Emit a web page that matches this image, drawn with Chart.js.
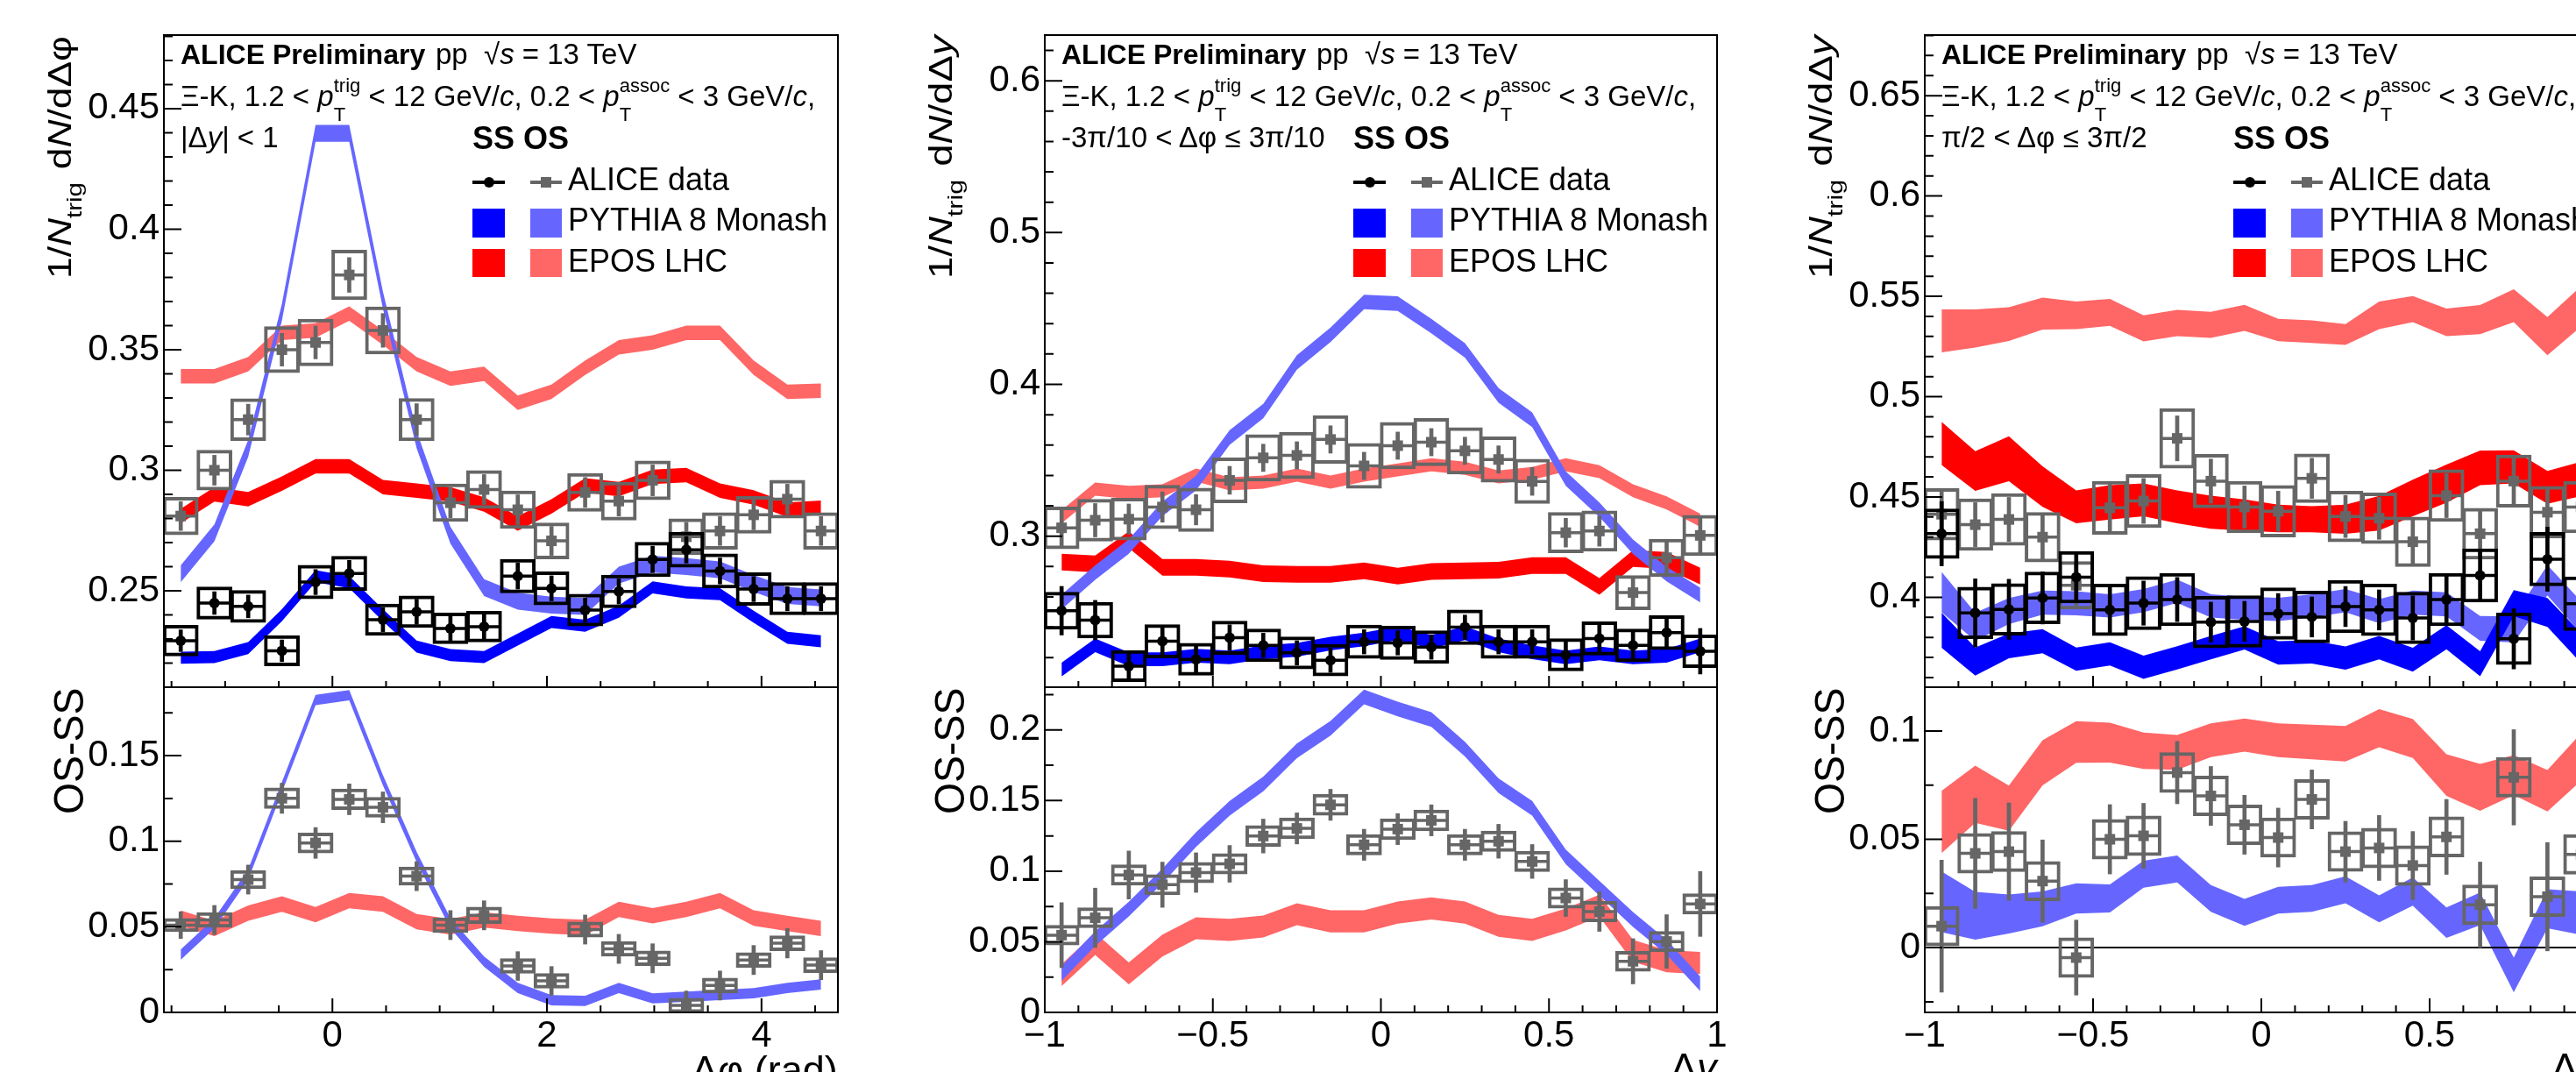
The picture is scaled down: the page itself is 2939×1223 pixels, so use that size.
<!DOCTYPE html>
<html>
<head>
<meta charset="utf-8">
<title>Xi-K correlations</title>
<script src="https://cdn.jsdelivr.net/npm/chart.js@4.4.1/dist/chart.umd.min.js"></script>
<style>
html, body { margin:0; padding:0; background:#fff; overflow:hidden; }
#root { position:relative; width:2939px; height:1223px; overflow:hidden; background:#fff;
  font-family:"Liberation Sans", Arial, Helvetica, sans-serif; color:#000; }
#root canvas { position:absolute; }
.t { position:absolute; white-space:nowrap; }
.sb, .sp, .ysb { position:relative; line-height:0; }
.sb { font-size:22px; top:17px; }
.sp { font-size:22px; top:-16px; margin-left:-13.4px; }
.ysb { font-size:24px; top:12px; margin-right:12px; }
.mk { position:absolute; }
</style>
</head>
<body>
<div id="root"></div>
<script>
// ---------------- categories (bin centres) ----------------
const dphiBins = [-1.414, -1.100, -0.785, -0.471, -0.157, 0.157, 0.471, 0.785, 1.100, 1.414,
                  1.728, 2.042, 2.356, 2.670, 2.985, 3.299, 3.613, 3.927, 4.241, 4.555];
const dyBins = [-0.95, -0.85, -0.75, -0.65, -0.55, -0.45, -0.35, -0.25, -0.15, -0.05,
                0.05, 0.15, 0.25, 0.35, 0.45, 0.55, 0.65, 0.75, 0.85, 0.95];

// ---------------- tick labels ----------------
const dphiTickLabels = [0, 2, 4];
const dyTickLabels = [-1, -0.5, 0, 0.5, 1];
const p1TopTicks = [0.25, 0.3, 0.35, 0.4, 0.45];
const p1BotTicks = [0, 0.05, 0.1, 0.15];
const p2TopTicks = [0.3, 0.4, 0.5, 0.6];
const p2BotTicks = [0, 0.05, 0.1, 0.15, 0.2];
const p3TopTicks = [0.4, 0.45, 0.5, 0.55, 0.6, 0.65];
const p3BotTicks = [0, 0.05, 0.1];

// ---------------- Panel 1: Δφ, |Δy|<1 ----------------
const p1_os      = [0.281, 0.300, 0.321, 0.350, 0.353, 0.381, 0.358, 0.321, 0.2865, 0.292, 0.2836, 0.2707, 0.2908, 0.2872, 0.2958, 0.2724, 0.2748, 0.2815, 0.288, 0.2748];
const p1_os_sys  = [0.0079, 0.0084, 0.0088, 0.0097, 0.0098, 0.0104, 0.0099, 0.0089, 0.0079, 0.0080, 0.0079, 0.0076, 0.0080, 0.0080, 0.0082, 0.0076, 0.0077, 0.0078, 0.0080, 0.0077];
const p1_os_stat = [0.0060, 0.0062, 0.0064, 0.0068, 0.0068, 0.0072, 0.0070, 0.0066, 0.0062, 0.0062, 0.0062, 0.0060, 0.0062, 0.0062, 0.0064, 0.0060, 0.0060, 0.0062, 0.0062, 0.0060];
const p1_ss      = [0.2293, 0.2449, 0.2435, 0.2251, 0.2536, 0.2572, 0.2380, 0.2413, 0.2344, 0.2351, 0.2561, 0.2510, 0.2420, 0.2497, 0.2630, 0.2670, 0.2582, 0.2507, 0.2467, 0.2467];
const p1_ss_sys  = [0.0065, 0.0068, 0.0068, 0.0064, 0.0071, 0.0072, 0.0066, 0.0067, 0.0065, 0.0065, 0.0071, 0.0070, 0.0067, 0.0069, 0.0073, 0.0074, 0.0072, 0.0069, 0.0068, 0.0068];
const p1_ss_stat = [0.0045, 0.0047, 0.0047, 0.0045, 0.0052, 0.0054, 0.0050, 0.0052, 0.0050, 0.0050, 0.0054, 0.0052, 0.0050, 0.0052, 0.0055, 0.0055, 0.0054, 0.0052, 0.0050, 0.0050];
const p1_diff      = [0.0510, 0.0540, 0.0776, 0.1251, 0.0990, 0.1245, 0.1198, 0.0796, 0.0510, 0.0567, 0.0271, 0.0184, 0.0484, 0.0371, 0.0316, 0.0041, 0.0157, 0.0306, 0.0404, 0.0276];
const p1_diff_sys  = [0.0040, 0.0045, 0.0055, 0.0062, 0.0060, 0.0062, 0.0060, 0.0055, 0.0045, 0.0050, 0.0045, 0.0045, 0.0046, 0.0045, 0.0045, 0.0044, 0.0045, 0.0045, 0.0046, 0.0045];
const p1_diff_stat = [0.0078, 0.0085, 0.0085, 0.0088, 0.0090, 0.0090, 0.0090, 0.0085, 0.0085, 0.0085, 0.0084, 0.0084, 0.0085, 0.0085, 0.0085, 0.0084, 0.0085, 0.0085, 0.0086, 0.0085];
const p1_epOS  = [0.339, 0.339, 0.344, 0.357, 0.358, 0.365, 0.355, 0.344, 0.338, 0.340, 0.328, 0.3325, 0.3425, 0.351, 0.353, 0.357, 0.357, 0.3425, 0.3325, 0.333];
const p1_epSS  = [0.281, 0.290, 0.288, 0.2944, 0.3016, 0.3016, 0.293, 0.2915, 0.290, 0.2858, 0.2779, 0.285, 0.2937, 0.2922, 0.2973, 0.298, 0.2915, 0.2887, 0.2836, 0.2844];
const p1_pyOS  = [0.257, 0.274, 0.309, 0.3655, 0.4397, 0.4397, 0.3706, 0.3127, 0.273, 0.2513, 0.2457, 0.244, 0.2435, 0.2565, 0.261, 0.260, 0.2587, 0.253, 0.248, 0.247];
const p1_pySS  = [0.2222, 0.2225, 0.2262, 0.2399, 0.2560, 0.2536, 0.2399, 0.2269, 0.2233, 0.2225, 0.2298, 0.2370, 0.2355, 0.2413, 0.2514, 0.2493, 0.2486, 0.2392, 0.2305, 0.2290];
const p1_pyDiff = [0.0337, 0.052, 0.0806, 0.1316, 0.1825, 0.1853, 0.1357, 0.0908, 0.052, 0.0296, 0.0143, 0.0071, 0.0067, 0.0143, 0.0082, 0.0092, 0.0102, 0.0112, 0.0143, 0.0163];
const p1_epDiff = [0.055, 0.049, 0.058, 0.0633, 0.0571, 0.0653, 0.0633, 0.053, 0.050, 0.054, 0.052, 0.0504, 0.0496, 0.0602, 0.0565, 0.0602, 0.0653, 0.0551, 0.052, 0.049];
const p1_bandHalf = { epOS: 0.003, epSS: 0.003, pyOS: 0.0035, pySS: 0.0025, pyDiff: 0.003, epDiff: 0.0045 };

// ---------------- Panel 2: Δy, near side ----------------
const p2_os      = [0.3055, 0.3105, 0.3112, 0.3192, 0.3174, 0.3368, 0.3516, 0.3532, 0.3637, 0.3463, 0.3596, 0.3619, 0.3562, 0.3505, 0.3361, 0.3023, 0.3034, 0.2628, 0.2858, 0.3005];
const p2_os_sys  = [0.0140, 0.0140, 0.0140, 0.0145, 0.0145, 0.0150, 0.0155, 0.0155, 0.0160, 0.0150, 0.0155, 0.0158, 0.0155, 0.0152, 0.0148, 0.0135, 0.0135, 0.0115, 0.0125, 0.0135];
const p2_os_stat = [0.0120, 0.0110, 0.0100, 0.0100, 0.0100, 0.0092, 0.0090, 0.0090, 0.0090, 0.0090, 0.0090, 0.0090, 0.0090, 0.0090, 0.0092, 0.0095, 0.0100, 0.0105, 0.0110, 0.0130];
const p2_ss      = [0.2509, 0.2447, 0.2144, 0.2308, 0.2189, 0.2331, 0.2281, 0.2231, 0.2183, 0.2304, 0.2297, 0.2269, 0.2400, 0.2304, 0.2304, 0.2219, 0.2326, 0.2281, 0.2365, 0.2242];
const p2_ss_sys  = [0.0124, 0.0120, 0.0105, 0.0112, 0.0108, 0.0112, 0.0110, 0.0108, 0.0106, 0.0112, 0.0112, 0.0110, 0.0116, 0.0112, 0.0112, 0.0108, 0.0112, 0.0110, 0.0114, 0.0110];
const p2_ss_stat = [0.0160, 0.0130, 0.0090, 0.0090, 0.0090, 0.0085, 0.0080, 0.0080, 0.0080, 0.0080, 0.0080, 0.0080, 0.0080, 0.0080, 0.0080, 0.0085, 0.0090, 0.0095, 0.0110, 0.0150];
const p2_diff      = [0.0547, 0.0670, 0.0973, 0.0904, 0.0990, 0.1052, 0.1249, 0.1303, 0.1470, 0.1187, 0.1298, 0.1360, 0.1187, 0.1212, 0.1069, 0.0810, 0.0714, 0.0362, 0.0502, 0.0768];
const p2_diff_sys  = [0.0072, 0.0073, 0.0075, 0.0074, 0.0075, 0.0075, 0.0076, 0.0076, 0.0077, 0.0075, 0.0076, 0.0076, 0.0075, 0.0075, 0.0075, 0.0074, 0.0074, 0.0073, 0.0073, 0.0074];
const p2_diff_stat = [0.0230, 0.0210, 0.0170, 0.0160, 0.0140, 0.0130, 0.0120, 0.0110, 0.0110, 0.0110, 0.0110, 0.0110, 0.0110, 0.0120, 0.0120, 0.0130, 0.0140, 0.0160, 0.0190, 0.0230];
const p2_pyOS  = [0.2566, 0.2760, 0.2932, 0.3180, 0.3350, 0.3650, 0.3824, 0.4144, 0.4326, 0.4543, 0.4532, 0.4384, 0.4224, 0.3927, 0.3767, 0.3379, 0.3174, 0.2930, 0.2750, 0.2612];
const p2_pySS  = [0.2121, 0.2281, 0.2189, 0.2189, 0.2212, 0.2201, 0.2235, 0.2251, 0.2292, 0.2320, 0.2361, 0.2304, 0.2361, 0.2281, 0.2235, 0.2201, 0.2228, 0.2201, 0.2212, 0.2281];
const p2_epOS  = [0.3128, 0.3310, 0.3288, 0.3299, 0.3402, 0.3345, 0.3356, 0.3402, 0.3356, 0.3402, 0.3436, 0.3470, 0.3447, 0.3390, 0.3413, 0.3470, 0.3425, 0.3299, 0.3219, 0.3105];
const p2_epSS  = [0.2829, 0.2817, 0.2977, 0.2795, 0.2795, 0.2783, 0.2753, 0.2749, 0.2749, 0.2772, 0.2737, 0.2767, 0.2772, 0.2776, 0.2806, 0.2806, 0.2669, 0.2852, 0.2840, 0.2737];
const p2_pyDiff = [0.0276, 0.0522, 0.0732, 0.0966, 0.1224, 0.1446, 0.1618, 0.1852, 0.2012, 0.2234, 0.2148, 0.2074, 0.1865, 0.1606, 0.1446, 0.1101, 0.0879, 0.0658, 0.0461, 0.0202];
const p2_epDiff = [0.0264, 0.0485, 0.0276, 0.0473, 0.0596, 0.0584, 0.0608, 0.0695, 0.0645, 0.0645, 0.0707, 0.0736, 0.0707, 0.0613, 0.0584, 0.0658, 0.0756, 0.0436, 0.0362, 0.0350];
const p2_bandHalf = { epOS: 0.0043, epSS: 0.0055, pyOS: 0.0048, pySS: 0.0045, pyDiff: 0.0052, epDiff: 0.0078 };

// ---------------- Panel 3: Δy, away side ----------------
const p3_os      = [0.4414, 0.4362, 0.4388, 0.4300, 0.4060, 0.4446, 0.4480, 0.4792, 0.4579, 0.4450, 0.4429, 0.4593, 0.4403, 0.4394, 0.4277, 0.4507, 0.4317, 0.4579, 0.4424, 0.4450];
const p3_os_sys  = [0.0130, 0.0130, 0.0130, 0.0125, 0.0120, 0.0134, 0.0134, 0.0150, 0.0135, 0.0130, 0.0130, 0.0123, 0.0128, 0.0128, 0.0125, 0.0130, 0.0128, 0.0132, 0.0130, 0.0130];
const p3_os_stat = [0.0115, 0.0110, 0.0110, 0.0110, 0.0110, 0.0117, 0.0112, 0.0112, 0.0110, 0.0105, 0.0100, 0.0100, 0.0105, 0.0105, 0.0110, 0.0110, 0.0112, 0.0115, 0.0118, 0.0125];
const p3_ss      = [0.4317, 0.3922, 0.3940, 0.3997, 0.4100, 0.3937, 0.3971, 0.3989, 0.3876, 0.3880, 0.3919, 0.3902, 0.3954, 0.3937, 0.3897, 0.3989, 0.4109, 0.3793, 0.4190, 0.3968];
const p3_ss_sys  = [0.0125, 0.0130, 0.0130, 0.0130, 0.0130, 0.0130, 0.0134, 0.0132, 0.0130, 0.0130, 0.0130, 0.0130, 0.0132, 0.0130, 0.0130, 0.0132, 0.0134, 0.0130, 0.0135, 0.0135];
const p3_ss_stat = [0.0160, 0.0170, 0.0150, 0.0130, 0.0120, 0.0120, 0.0110, 0.0110, 0.0100, 0.0100, 0.0100, 0.0100, 0.0100, 0.0100, 0.0110, 0.0120, 0.0130, 0.0150, 0.0160, 0.0180];
const p3_diff      = [0.0099, 0.0435, 0.0443, 0.0307, -0.0046, 0.0500, 0.0516, 0.0808, 0.0700, 0.0567, 0.0508, 0.0684, 0.0443, 0.0460, 0.0379, 0.0511, 0.0198, 0.0786, 0.0235, 0.0430];
const p3_diff_sys  = [0.0093, 0.0093, 0.0094, 0.0092, 0.0093, 0.0093, 0.0093, 0.0094, 0.0093, 0.0093, 0.0092, 0.0093, 0.0093, 0.0093, 0.0093, 0.0094, 0.0093, 0.0093, 0.0093, 0.0093];
const p3_diff_stat = [0.0305, 0.0254, 0.0225, 0.0190, 0.0173, 0.0160, 0.0150, 0.0144, 0.0136, 0.0136, 0.0136, 0.0136, 0.0140, 0.0150, 0.0157, 0.0173, 0.0197, 0.0220, 0.0250, 0.0280];
const p3_pyOS  = [0.4026, 0.3853, 0.3931, 0.3974, 0.3970, 0.3957, 0.3983, 0.4030, 0.3957, 0.3945, 0.3940, 0.3957, 0.3983, 0.3931, 0.3974, 0.3965, 0.3845, 0.3840, 0.4085, 0.3900];
const p3_pySS  = [0.3836, 0.3680, 0.3758, 0.3781, 0.3692, 0.3718, 0.3651, 0.3698, 0.3749, 0.3798, 0.3723, 0.3728, 0.3697, 0.3749, 0.3689, 0.3801, 0.3669, 0.3971, 0.3924, 0.3747];
const p3_epOS  = [0.5328, 0.5340, 0.5362, 0.5414, 0.5405, 0.5420, 0.5340, 0.5367, 0.5358, 0.5393, 0.5332, 0.5324, 0.5310, 0.5405, 0.5436, 0.5370, 0.5384, 0.5453, 0.5301, 0.5450];
const p3_epSS  = [0.4767, 0.4629, 0.4690, 0.4552, 0.4451, 0.4473, 0.4486, 0.4451, 0.4424, 0.4410, 0.4393, 0.4389, 0.4389, 0.4419, 0.4495, 0.4567, 0.4645, 0.4650, 0.4548, 0.4590];
const p3_pyDiff = [0.0211, 0.0147, 0.0155, 0.0179, 0.0227, 0.0227, 0.0339, 0.0363, 0.0227, 0.0163, 0.0219, 0.0227, 0.0267, 0.0179, 0.0259, 0.0115, 0.0179, -0.0126, 0.0179, 0.0159];
const p3_epDiff = [0.0580, 0.0708, 0.0644, 0.0853, 0.0949, 0.0946, 0.0909, 0.0901, 0.0957, 0.0981, 0.0957, 0.0949, 0.0941, 0.1013, 0.0965, 0.0796, 0.0740, 0.0796, 0.0724, 0.0880];
const p3_epOS_half  = [0.0107, 0.0095, 0.0084, 0.0080, 0.0069, 0.0067, 0.0065, 0.0065, 0.0065, 0.0065, 0.0056, 0.0056, 0.0052, 0.0069, 0.0065, 0.0069, 0.0073, 0.0082, 0.0095, 0.0100];
const p3_epSS_half  = [0.0108, 0.0099, 0.0112, 0.0101, 0.0082, 0.0086, 0.0082, 0.0082, 0.0082, 0.0078, 0.0069, 0.0065, 0.0073, 0.0086, 0.0091, 0.0095, 0.0086, 0.0082, 0.0082, 0.0086];
const p3_pyOS_half  = [0.0100, 0.0070, 0.0065, 0.0060, 0.0060, 0.0058, 0.0058, 0.0058, 0.0058, 0.0058, 0.0058, 0.0058, 0.0058, 0.0060, 0.0060, 0.0060, 0.0062, 0.0065, 0.0075, 0.0080];
const p3_pySS_half  = [0.0087, 0.0070, 0.0062, 0.0060, 0.0058, 0.0058, 0.0058, 0.0058, 0.0058, 0.0058, 0.0058, 0.0058, 0.0058, 0.0058, 0.0060, 0.0060, 0.0062, 0.0065, 0.0072, 0.0075];
const p3_pyDiff_half = [0.0140, 0.0110, 0.0090, 0.0080, 0.0070, 0.0065, 0.0062, 0.0062, 0.0062, 0.0062, 0.0062, 0.0062, 0.0062, 0.0062, 0.0065, 0.0070, 0.0075, 0.0080, 0.0090, 0.0100];
const p3_epDiff_half = [0.0144, 0.0132, 0.0104, 0.0104, 0.0096, 0.0092, 0.0084, 0.0080, 0.0078, 0.0076, 0.0078, 0.0080, 0.0082, 0.0088, 0.0090, 0.0096, 0.0108, 0.0092, 0.0096, 0.0110];

// ---------------- styling / layout ----------------
const FONT = '"Liberation Sans", Arial, Helvetica, sans-serif';
const TICK_FONT = 42;
const COL = { ss: '#000000', os: '#666666', pySS: '#0000ff', pyOS: '#6666ff', epSS: '#ff0000', epOS: '#ff6666' };
const AXW = 187, PAD = 40, RPAD = 30, XAXH = 68;
const TOP = 40, MID = 784, BOT = 1155;
const root = document.getElementById('root');

function fmt(v) { return String(+Number(v).toFixed(4)).replace('-', '\u2212'); }
function tickList(min, max, step, majors) {
  const out = [];
  const i0 = Math.ceil(min / step - 1e-6), i1 = Math.floor(max / step + 1e-6);
  for (let i = i0; i <= i1; i++) {
    const v = +(i * step).toFixed(6);
    out.push({ v, major: majors.some(m => Math.abs(m - v) < 1e-6) });
  }
  return out;
}

const rootFrame = {
  id: 'rootFrame',
  afterDatasetsDraw(chart, args, o) {
    const { ctx, chartArea: a } = chart;
    const x = chart.scales.x, y = chart.scales.y;
    ctx.save();
    ctx.strokeStyle = '#000';
    ctx.lineWidth = 2;
    ctx.beginPath();
    for (const t of o.yTicks) {
      const py = y.getPixelForValue(t.v);
      ctx.moveTo(a.left, py); ctx.lineTo(a.left + (t.major ? o.yMaj : o.yMin), py);
    }
    for (const t of o.xTicks) {
      const px = x.getPixelForValue(t.v);
      ctx.moveTo(px, a.bottom); ctx.lineTo(px, a.bottom - (t.major ? o.xMaj : o.xMin));
    }
    ctx.stroke();
    ctx.strokeRect(a.left, a.top, a.right - a.left, a.bottom - a.top);
    ctx.restore();
  }
};

function addBand(list, xs, c, hw, color) {
  const w = i => (Array.isArray(hw) ? hw[i] : hw);
  list.push({ type: 'line', data: xs.map((x, i) => ({ x, y: c[i] - w(i) })), borderWidth: 0,
    borderColor: 'rgba(0,0,0,0)', pointRadius: 0, fill: false, tension: 0 });
  list.push({ type: 'line', data: xs.map((x, i) => ({ x, y: c[i] + w(i) })), borderWidth: 0,
    borderColor: 'rgba(0,0,0,0)', pointRadius: 0, fill: '-1', backgroundColor: color, tension: 0 });
}
function addData(list, xs, v, stat, sys, color, style) {
  list.push({ type: 'bar', data: xs.map((x, i) => ({ x, y: [v[i] - sys[i], v[i] + sys[i]] })),
    backgroundColor: 'rgba(0,0,0,0)', borderColor: color, borderWidth: 4, borderSkipped: false,
    grouped: false, barPercentage: 1.06, categoryPercentage: 1 });
  list.push({ type: 'bar', data: xs.map((x, i) => ({ x, y: [v[i] - stat[i], v[i] + stat[i]] })),
    backgroundColor: color, borderWidth: 0, grouped: false, maxBarThickness: 4,
    barPercentage: 1, categoryPercentage: 1 });
  list.push({ type: 'scatter', data: xs.map((x, i) => ({ x, y: v[i] })), pointStyle: 'line',
    pointRadius: 19.5, pointBorderColor: color, pointBorderWidth: 3.5 });
  list.push({ type: 'scatter', data: xs.map((x, i) => ({ x, y: v[i] })), pointStyle: style,
    pointRadius: style === 'circle' ? 6 : 8.5, pointBackgroundColor: color,
    pointBorderColor: color, pointBorderWidth: 0 });
}

function makeChart(p, part, datasets) {
  const isTop = part === 'top';
  const ax = p[part];
  const cTop = (isTop ? TOP : MID) - PAD;
  const areaBottom = isTop ? MID : BOT;
  const H = areaBottom - cTop + (isTop ? PAD : XAXH + PAD);
  const W = AXW + p.W + RPAD;
  const cv = document.createElement('canvas');
  cv.width = W; cv.height = H;
  Object.assign(cv.style, { left: (p.L - AXW) + 'px', top: cTop + 'px', width: W + 'px', height: H + 'px' });
  root.appendChild(cv);
  datasets.forEach((d, i) => { d.order = datasets.length - i; });
  new Chart(cv, {
    type: 'scatter',
    data: { datasets },
    options: {
      responsive: false, animation: false, devicePixelRatio: 1, events: [],
      layout: { padding: { top: PAD, bottom: PAD, left: 0, right: RPAD } },
      plugins: {
        legend: { display: false }, tooltip: { enabled: false },
        rootFrame: {
          yTicks: tickList(ax.min, ax.max, ax.step, ax.labels), yMaj: 20, yMin: 10,
          xTicks: tickList(p.xmin, p.xmax, p.xstep, p.xLabels),
          xMaj: isTop ? 13 : 16, xMin: isTop ? 7 : 8
        }
      },
      scales: {
        x: {
          type: 'linear', min: p.xmin, max: p.xmax, offset: false, display: !isTop,
          grid: { display: false, drawTicks: false }, border: { display: false },
          ticks: { color: '#000', font: { family: FONT, size: TICK_FONT }, padding: 2, autoSkip: false,
                   maxRotation: 0, minRotation: 0, callback: v => fmt(v) },
          afterBuildTicks: s => { s.ticks = p.xLabels.map(v => ({ value: v })); },
          afterFit: s => { s.height = isTop ? 0 : XAXH; }
        },
        y: {
          type: 'linear', min: ax.min, max: ax.max,
          grid: { display: false, drawTicks: false }, border: { display: false },
          ticks: { color: '#000', font: { family: FONT, size: TICK_FONT }, padding: 5, autoSkip: false,
                   callback: v => fmt(v) },
          afterBuildTicks: s => { s.ticks = ax.labels.map(v => ({ value: v })); },
          afterFit: s => { s.width = AXW; }
        }
      }
    },
    plugins: [rootFrame]
  });
}

// ---------------- text helpers ----------------
function mkText(html, size, bold) {
  const d = document.createElement('div');
  d.className = 't';
  d.style.fontSize = size + 'px';
  d.style.lineHeight = Math.round(size * 1.25) + 'px';
  if (bold) d.style.fontWeight = 'bold';
  d.innerHTML = html + '<span class="bl" style="display:inline-block;width:0;height:0;vertical-align:baseline"></span>';
  root.appendChild(d);
  return { d, bl: d.querySelector('.bl').offsetTop, w: d.offsetWidth };
}
function place(html, x, base, size, opt) {
  opt = opt || {};
  const { d, bl, w } = mkText(html, size, opt.bold);
  d.style.left = (opt.right !== undefined ? opt.right - w : x) + 'px';
  d.style.top = (base - bl) + 'px';
}
function vplace(html, xBase, yEnd, size, len) {
  const { d, bl, w } = mkText(html, size, false);
  const s = len / w;
  d.style.left = xBase + 'px';
  d.style.top = (yEnd + len - bl) + 'px';
  d.style.transformOrigin = '0px ' + bl + 'px';
  d.style.transform = 'rotate(-90deg) scaleX(' + s.toFixed(4) + ')';
}
function rect(x, y, w, h, color, radius) {
  const d = document.createElement('div');
  d.className = 'mk';
  Object.assign(d.style, { left: x + 'px', top: y + 'px', width: w + 'px', height: h + 'px',
    background: color, borderRadius: radius || '0' });
  root.appendChild(d);
}

// ---------------- panels ----------------
const panels = [
  { L: 187, W: 769, xmin: -Math.PI / 2, xmax: 3 * Math.PI / 2, xstep: 0.5, xLabels: dphiTickLabels, xs: dphiBins,
    top: { min: 0.21, max: 0.4805, step: 0.01, labels: p1TopTicks },
    bot: { min: 0, max: 0.19, step: 0.025, labels: p1BotTicks },
    d: { os: p1_os, osSys: p1_os_sys, osStat: p1_os_stat, ss: p1_ss, ssSys: p1_ss_sys, ssStat: p1_ss_stat,
         diff: p1_diff, diffSys: p1_diff_sys, diffStat: p1_diff_stat,
         epOS: p1_epOS, epSS: p1_epSS, pyOS: p1_pyOS, pySS: p1_pySS, pyDiff: p1_pyDiff, epDiff: p1_epDiff },
    hw: p1_bandHalf, zero: false,
    line3: '|Δ<i>y</i>| &lt; 1',
    ytitle: '1/<i>N</i><span class="ysb">trig</span>d<i>N</i>/dΔφ',
    xtitle: 'Δφ (rad)', xtBase: 1236 },
  { L: 1192, W: 767, xmin: -1, xmax: 1, xstep: 0.1, xLabels: dyTickLabels, xs: dyBins,
    top: { min: 0.2005, max: 0.6301, step: 0.02, labels: p2TopTicks },
    bot: { min: 0, max: 0.2303, step: 0.025, labels: p2BotTicks },
    d: { os: p2_os, osSys: p2_os_sys, osStat: p2_os_stat, ss: p2_ss, ssSys: p2_ss_sys, ssStat: p2_ss_stat,
         diff: p2_diff, diffSys: p2_diff_sys, diffStat: p2_diff_stat,
         epOS: p2_epOS, epSS: p2_epSS, pyOS: p2_pyOS, pySS: p2_pySS, pyDiff: p2_pyDiff, epDiff: p2_epDiff },
    hw: p2_bandHalf, zero: false,
    line3: '-3π/10 &lt; Δφ ≤ 3π/10',
    ytitle: '1/<i>N</i><span class="ysb">trig</span>d<i>N</i>/dΔ<i>y</i>',
    xtitle: 'Δ<i>y</i>', xtBase: 1233 },
  { L: 2196, W: 768, xmin: -1, xmax: 1, xstep: 0.1, xLabels: dyTickLabels, xs: dyBins,
    top: { min: 0.3552, max: 0.6802, step: 0.01, labels: p3TopTicks },
    bot: { min: -0.0299, max: 0.1202, step: 0.025, labels: p3BotTicks },
    d: { os: p3_os, osSys: p3_os_sys, osStat: p3_os_stat, ss: p3_ss, ssSys: p3_ss_sys, ssStat: p3_ss_stat,
         diff: p3_diff, diffSys: p3_diff_sys, diffStat: p3_diff_stat,
         epOS: p3_epOS, epSS: p3_epSS, pyOS: p3_pyOS, pySS: p3_pySS, pyDiff: p3_pyDiff, epDiff: p3_epDiff },
    hw: { epOS: p3_epOS_half, epSS: p3_epSS_half, pyOS: p3_pyOS_half, pySS: p3_pySS_half,
          pyDiff: p3_pyDiff_half, epDiff: p3_epDiff_half }, zero: true,
    line3: 'π/2 &lt; Δφ ≤ 3π/2',
    ytitle: '1/<i>N</i><span class="ysb">trig</span>d<i>N</i>/dΔ<i>y</i>',
    xtitle: 'Δ<i>y</i>', xtBase: 1233 }
];

const line2 = 'Ξ-K, 1.2 &lt; <i>p</i><span class="sb">T</span><span class="sp">trig</span> &lt; 12 GeV/<i>c</i>, 0.2 &lt; <i>p</i><span class="sb">T</span><span class="sp">assoc</span> &lt; 3 GeV/<i>c</i>,';

for (const p of panels) {
  const d = p.d, xs = p.xs;
  const top = [];
  addBand(top, xs, d.epOS, p.hw.epOS, COL.epOS);
  addBand(top, xs, d.epSS, p.hw.epSS, COL.epSS);
  addBand(top, xs, d.pyOS, p.hw.pyOS, COL.pyOS);
  addBand(top, xs, d.pySS, p.hw.pySS, COL.pySS);
  addData(top, xs, d.os, d.osStat, d.osSys, COL.os, 'rect');
  addData(top, xs, d.ss, d.ssStat, d.ssSys, COL.ss, 'circle');
  makeChart(p, 'top', top);
  const bot = [];
  addBand(bot, xs, d.epDiff, p.hw.epDiff, COL.epOS);
  addBand(bot, xs, d.pyDiff, p.hw.pyDiff, COL.pyOS);
  if (p.zero) bot.push({ type: 'line', data: [{ x: p.xmin, y: 0 }, { x: p.xmax, y: 0 }],
    borderColor: '#000', borderWidth: 2, pointRadius: 0, fill: false });
  addData(bot, xs, d.diff, d.diffStat, d.diffSys, COL.os, 'rect');
  makeChart(p, 'bot', bot);
}

for (const p of panels) {
  const L = p.L;
  place('ALICE Preliminary', L + 19, 73, 32, { bold: true });
  place('pp &nbsp;√<i>s</i> = 13 TeV', L + 310, 73, 33);
  place(line2, L + 19, 120.5, 33);
  place(p.line3, L + 19, 168, 33);
  place('SS OS', L + 352, 170, 36, { bold: true });
  rect(L + 352, 205.5, 37, 4, COL.ss);
  rect(L + 364.5, 201.5, 12, 12, COL.ss, '50%');
  rect(L + 418, 205.5, 36, 4, COL.os);
  rect(L + 430, 201.5, 12, 12, COL.os);
  place('ALICE data', L + 461, 216.5, 36);
  rect(L + 352, 238, 37, 33, COL.pySS);
  rect(L + 418, 238, 36, 33, COL.pyOS);
  place('PYTHIA 8 Monash', L + 461, 263, 36);
  rect(L + 352, 284, 37, 32, COL.epSS);
  rect(L + 418, 284, 36, 32, COL.epOS);
  place('EPOS LHC', L + 461, 310, 36);
  vplace(p.ytitle, L - 106, 41, 36, 277);
  vplace('OS-SS', L - 92, 785, 48, 144);
  place(p.xtitle, 0, p.xtBase, 45, { right: L + p.W });
}
</script>
</body>
</html>
